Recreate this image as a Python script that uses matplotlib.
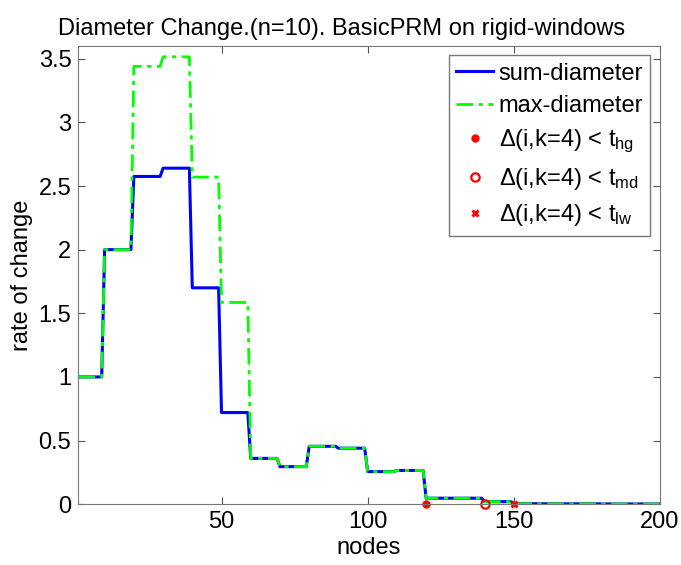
import matplotlib
matplotlib.use("Agg")
import matplotlib.pyplot as plt
import numpy as np
from matplotlib.ticker import FormatStrFormatter

plt.rcParams['font.family'] = ['Liberation Sans', 'DejaVu Sans']
plt.rcParams['mathtext.fontset'] = 'custom'
plt.rcParams['mathtext.rm'] = 'Liberation Sans'
plt.rcParams['mathtext.it'] = 'Liberation Sans'

# value of each block of 10 nodes (block k covers nodes 10k .. 10k+9)
sum_diameter = [1.0, 2.0, 2.575, 2.64, 1.70, 0.72, 0.36, 0.295, 0.455, 0.44,
                0.256, 0.265, 0.047, 0.047, 0.02, 0.004, 0.003, 0.003,
                0.002, 0.002, 0.002]
max_diameter = [1.0, 2.0, 3.44, 3.515, 2.57, 1.585, 0.36, 0.295, 0.455, 0.44,
                0.256, 0.265, 0.047, 0.047, 0.02, 0.004, 0.003, 0.003,
                0.002, 0.002, 0.002]
nodes = np.arange(1, 201)

# threshold crossings
hg_node, md_node, lw_node = 120, 140, 150

sum_vals = np.array(sum_diameter)[nodes // 10]
max_vals = np.array(max_diameter)[nodes // 10]

fig = plt.figure(figsize=(6.81, 5.65), dpi=100)
ax = fig.add_axes([0.115, 0.1076, 0.854, 0.811])

ax.plot(nodes, sum_vals, color=(0, 0, 1), lw=2.2, label='sum-diameter')
ax.plot(nodes, max_vals, color=(0, 1, 0), lw=2.0, ls='-.',
        dashes=(6, 2, 1.5, 2), label='max-diameter')
ax.plot(hg_node, 0, 'o', color='red', ms=5, clip_on=False,
        label=r'$\Delta$(i,k=4) < t$_{\mathrm{hg}}$')
ax.plot(md_node, 0, 'o', mfc='none', mec='red', mew=1.6, ms=6, clip_on=False,
        label=r'$\Delta$(i,k=4) < t$_{\mathrm{md}}$')
ax.plot(lw_node, 0, 'x', color='red', mew=2.2, ms=5, clip_on=False,
        label=r'$\Delta$(i,k=4) < t$_{\mathrm{lw}}$')

ax.set_xlim(1, 200)
ax.set_ylim(0, 3.6)
ax.set_xticks([50, 100, 150, 200])
ax.set_yticks(np.arange(0, 3.51, 0.5))
ax.yaxis.set_major_formatter(FormatStrFormatter('%g'))
ax.tick_params(direction='in', top=True, right=True, length=5,
               labelsize=17, color='#555555', pad=5)
for s in ax.spines.values():
    s.set_color('#777777')

ax.set_title('Diameter Change.(n=10). BasicPRM on rigid-windows',
             fontsize=17, pad=8, x=0.452)
ax.set_xlabel('nodes', fontsize=17, labelpad=3)
ax.set_ylabel('rate of change', fontsize=17, labelpad=4)

leg = ax.legend(loc='upper right', fontsize=17, fancybox=False,
                edgecolor='#777777', framealpha=1, borderaxespad=0.4,
                handlelength=1.55, labelspacing=0.45, borderpad=0.3,
                handletextpad=0.25)
leg.get_frame().set_linewidth(1.0)

fig.savefig('out.png', dpi=100)
